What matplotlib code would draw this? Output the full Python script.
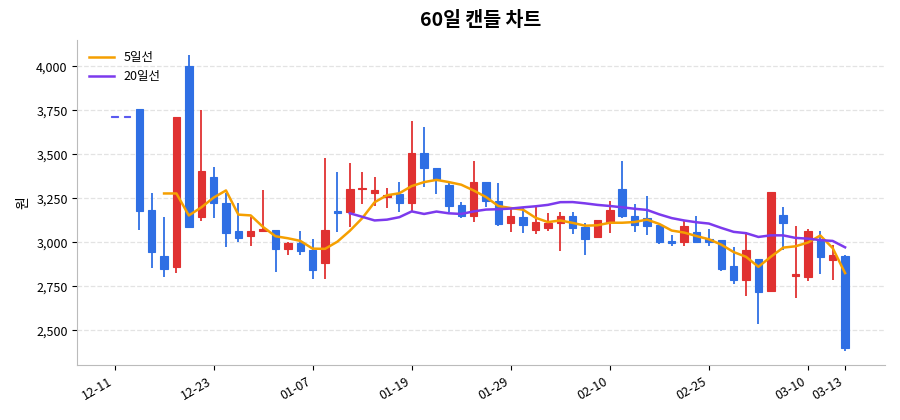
import matplotlib
matplotlib.use("Agg")
import matplotlib.pyplot as plt
import numpy as np
import pandas as pd

plt.rcParams['font.family'] = ['Noto Sans CJK KR', 'DejaVu Sans']

opens  = [3710,3710,3756,3182,2920,2858,4000,3142,3369,3222,3062,3034,3062,3068,2960,2994,2955,2881,3176,3170,
          3300,3278,3256,3272,3222,3505,3420,3324,3210,3148,3341,3233,3108,3145,3068,3080,3108,3147,3085,3030,
          3113,3300,3147,3136,3097,3005,3000,3057,3017,3011,2864,2784,2903,2722,3153,2810,2801,3011,2898,2920]
closes = [3710,3710,3176,2943,2847,3710,3085,3404,3222,3051,3023,3062,3074,2960,2994,2949,2841,3068,3165,3301,
          3307,3295,3267,3222,3505,3420,3358,3204,3148,3341,3233,3102,3148,3100,3113,3110,3147,3080,3020,3125,
          3182,3147,3100,3090,3000,2995,3090,3000,3000,2847,2784,2955,2716,3284,3108,2822,3062,2915,2926,2398]
highs  = [3710,3710,3756,3278,3142,3710,4062,3750,3426,3278,3222,3142,3295,3068,3000,3062,3017,3477,3398,3449,
          3400,3369,3307,3341,3687,3653,3420,3335,3227,3460,3341,3335,3193,3200,3200,3165,3170,3170,3110,3125,
          3233,3460,3215,3260,3100,3040,3120,3147,3074,3015,2972,3057,2903,3284,3199,3091,3074,3062,2983,2925]
lows   = [3710,3710,3068,2852,2801,2824,3080,3120,3136,2972,3000,2977,3060,2830,2926,2930,2790,2790,3057,3085,
          3215,3204,3193,3170,3176,3312,3273,3170,3140,3114,3199,3091,3057,3050,3045,3065,2950,3045,2925,3025,
          3050,3140,3060,3040,2990,2977,2977,2995,2977,2835,2761,2693,2534,2722,2955,2682,2778,2818,2784,2381]
tick_pos = [0, 8, 16, 24, 32, 40, 48, 56, 59]
tick_labels = ['12-11','12-23','01-07','01-19','01-29','02-10','02-25','03-10','03-13']

UP = '#e03131'
DOWN = '#2f6fe4'

fig, ax = plt.subplots(figsize=(9, 4.2), dpi=100)
fig.subplots_adjust(left=0.086, right=0.983, top=0.905, bottom=0.13)

x = np.arange(len(closes))
for i in x:
    o, c, h, l = opens[i], closes[i], highs[i], lows[i]
    col = UP if c > o else DOWN
    if h == l and o == c:
        col = '#5a5af0'
    ax.vlines(i, l, h, color=col, lw=1.3, zorder=2)
    bot = min(o, c)
    hgt = max(abs(c - o), 6)
    ax.bar(i, hgt, bottom=bot, width=0.5 if h == l else 0.6, color=col, edgecolor=col, lw=0.8, zorder=3)

s = pd.Series(closes, dtype=float)
ma5 = s.rolling(5).mean()
ma20 = s.rolling(20).mean()
ax.plot(x, ma5, color='#f59f00', lw=1.8, label='5일선', zorder=4)
ax.plot(x, ma20, color='#7c3aed', lw=1.8, label='20일선', zorder=4)

ax.set_xlim(-3, 62.2)
ax.set_ylim(2300, 4150)
ax.set_yticks([2500, 2750, 3000, 3250, 3500, 3750, 4000])
ax.yaxis.set_major_formatter(matplotlib.ticker.FuncFormatter(lambda v, p: f'{int(v):,}'))
ax.set_xticks(tick_pos)
ax.set_xticklabels(tick_labels, rotation=30, ha='right', fontsize=9)
ax.tick_params(axis='y', labelsize=9)
ax.grid(axis='y', linestyle='--', color='#e3e3e3', lw=0.9)
ax.set_axisbelow(True)
for sp in ['top', 'right']:
    ax.spines[sp].set_visible(False)
ax.spines['left'].set_color('#bbbbbb')
ax.spines['bottom'].set_color('#bbbbbb')
ax.set_ylabel('원', fontsize=10)
ax.set_title('60일 캔들 차트', fontsize=14, fontweight='bold', pad=10)
ax.legend(loc='upper left', frameon=False, fontsize=9)

fig.savefig('out.png')
